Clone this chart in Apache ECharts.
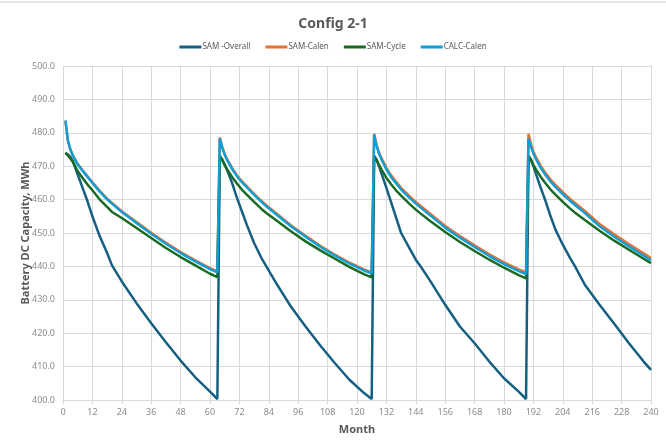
<!DOCTYPE html>
<html>
<head>
<meta charset="utf-8">
<script src="https://cdn.jsdelivr.net/npm/echarts@6/dist/echarts.min.js"></script>
<style>
  html, body { margin: 0; padding: 0; background: #fff; }
  #chart { width: 666px; height: 445px; }
</style>
</head>
<body>
<div id="chart"></div>
<script>
// months sampled along each 63-month cycle (starts at 1, 64, 127, 190)
const months = [
  1, 2, 3, 4, 6, 8, 10, 12, 15, 18, 20, 24, 30, 36, 42, 48, 54, 60, 63,
  64, 65, 66, 67, 69, 71, 73, 75, 78, 81, 83, 87, 93, 99, 105, 111, 117, 123, 126,
  127, 128, 129, 130, 132, 134, 136, 138, 141, 144, 146, 150, 156, 162, 168, 174, 180, 186, 189,
  190, 191, 192, 193, 195, 197, 199, 201, 204, 207, 209, 213, 219, 225, 231, 237, 240
];

const samOverall = [
  474.0, 473.5, 472.8, 471.5, 467.5, 463.5, 459.5, 455.0, 449.0, 444.0, 440.3, 435.5, 429.0, 423.0, 417.3, 411.8, 406.8, 402.5, 400.3,
  473.0, 472.0, 470.5, 468.8, 465.0, 460.5, 456.5, 452.5, 447.0, 442.5, 440.0, 435.0, 428.0, 422.0, 416.3, 411.0, 406.0, 402.0, 400.3,
  473.0, 472.0, 470.0, 467.8, 463.5, 459.0, 454.5, 450.0, 446.0, 442.0, 440.0, 435.5, 428.5, 422.0, 417.0, 411.5, 406.5, 402.5, 400.3,
  473.0, 472.0, 470.0, 467.8, 463.5, 459.5, 455.0, 451.0, 446.5, 442.5, 440.0, 434.5, 428.5, 422.8, 417.0, 411.5, 409.0
];

const samCalen = [
  483.5, 477.6, 475.0, 473.3, 470.7, 468.8, 467.0, 465.2, 462.6, 460.3, 459.0, 456.5, 453.3, 450.1, 447.1, 444.3, 441.8, 439.5, 438.5,
  478.6, 475.8, 473.7, 472.1, 469.5, 467.3, 465.5, 464.0, 461.7, 459.6, 458.3, 455.9, 452.3, 449.2, 446.2, 443.5, 441.1, 439.0, 438.2,
  479.7, 476.4, 474.1, 472.4, 469.5, 467.2, 465.3, 463.5, 461.3, 459.3, 458.1, 455.7, 452.1, 449.1, 446.3, 443.6, 441.2, 439.1, 438.2,
  479.7, 476.6, 474.4, 472.8, 470.1, 467.9, 466.0, 464.4, 462.2, 460.2, 459.0, 456.6, 452.7, 449.6, 446.7, 443.9, 442.5
];

const samCycle = [
  474.0, 473.2, 472.3, 471.3, 468.5, 466.5, 464.5, 462.8, 460.0, 457.8, 456.3, 454.5, 451.5, 448.5, 445.5, 442.8, 440.3, 437.8, 436.8,
  473.1, 471.8, 470.3, 469.0, 466.8, 464.8, 463.0, 461.5, 459.3, 457.2, 456.0, 453.8, 450.5, 447.5, 444.8, 442.3, 439.8, 437.6, 436.7,
  473.1, 471.8, 470.3, 469.0, 466.5, 464.5, 462.7, 461.2, 459.0, 457.0, 455.8, 453.5, 450.3, 447.3, 444.6, 442.0, 439.6, 437.4, 436.4,
  473.1, 471.9, 470.4, 469.1, 466.8, 464.8, 463.0, 461.5, 459.3, 457.3, 456.1, 453.9, 450.7, 447.7, 445.0, 442.3, 441.0
];

const calcCalen = [
  483.7, 477.7, 475.0, 473.2, 470.5, 468.6, 466.8, 465.0, 462.4, 460.1, 458.8, 456.3, 453.0, 449.8, 446.8, 444.0, 441.5, 439.2, 438.2,
  478.3, 475.5, 473.4, 471.8, 469.2, 467.0, 465.2, 463.7, 461.4, 459.3, 458.0, 455.6, 452.0, 448.9, 445.9, 443.2, 440.8, 438.7, 437.9,
  479.5, 476.0, 473.7, 472.0, 469.0, 466.7, 464.8, 463.0, 460.8, 458.8, 457.6, 455.2, 451.6, 448.6, 445.8, 443.1, 440.7, 438.6, 437.7,
  478.3, 475.8, 473.8, 472.2, 469.5, 467.3, 465.4, 463.8, 461.6, 459.6, 458.4, 456.0, 452.0, 448.9, 446.0, 443.2, 441.9
];

const seriesNames = ['SAM -Overall', 'SAM-Calen', 'SAM-Cycle', 'CALC-Calen'];
const seriesColors = ['#156082', '#E97132', '#196B24', '#0F9ED5'];
const seriesValues = [samOverall, samCalen, samCycle, calcCalen];

const font = "'Noto Sans', 'Open Sans', sans-serif";

const chart = echarts.init(document.getElementById('chart'));
chart.setOption({
  backgroundColor: '#fff',
  animation: false,
  // faint frame edge along the top of the chart area
  graphic: [{
    type: 'line',
    shape: { x1: 0, y1: 2, x2: 666, y2: 2 },
    style: { stroke: '#e4e4e4', lineWidth: 2 }
  }],
  title: {
    text: 'Config 2-1',
    left: 'center',
    top: 12,
    textStyle: { fontFamily: font, fontSize: 14, fontWeight: 'bold', color: '#595959' }
  },
  legend: {
    top: 38,
    left: 'center',
    icon: 'rect',
    itemWidth: 22,
    itemHeight: 3,
    itemGap: 15,
    textStyle: { fontFamily: font, fontSize: 8, color: '#595959', padding: [0, 0, 0, -4] },
    data: seriesNames
  },
  grid: { left: 63, right: 15, top: 66, bottom: 45 },
  xAxis: {
    type: 'value',
    min: 0,
    max: 240,
    interval: 12,
    name: 'Month',
    nameLocation: 'middle',
    nameGap: 24,
    nameTextStyle: { fontFamily: font, fontSize: 11, fontWeight: 'bold', color: '#595959' },
    axisLine: { show: true, lineStyle: { color: '#d9d9d9', width: 1 } },
    axisTick: { show: true, length: 4, lineStyle: { color: '#d9d9d9' } },
    axisLabel: { fontFamily: font, fontSize: 9, color: '#8c8c8c', margin: 8 },
    splitLine: { show: true, lineStyle: { color: '#d9d9d9', width: 1 } }
  },
  yAxis: {
    type: 'value',
    min: 400,
    max: 500,
    interval: 10,
    name: 'Battery DC Capacity, MWh',
    nameLocation: 'middle',
    nameGap: 32,
    nameMoveOverlap: false,
    nameTextStyle: { fontFamily: font, fontSize: 11, fontWeight: 'bold', color: '#595959' },
    axisLine: { show: false },
    axisTick: { show: false },
    axisLabel: {
      fontFamily: font, fontSize: 9, color: '#8c8c8c', margin: 8,
      formatter: v => v.toFixed(1)
    },
    splitLine: { show: true, lineStyle: { color: '#d9d9d9', width: 1 } }
  },
  series: seriesNames.map((name, k) => ({
    name: name,
    type: 'line',
    showSymbol: false,
    symbol: 'none',
    color: seriesColors[k],
    lineStyle: { width: 2.5, color: seriesColors[k] },
    data: months.map((m, i) => [m, seriesValues[k][i]])
  }))
});
</script>
</body>
</html>
